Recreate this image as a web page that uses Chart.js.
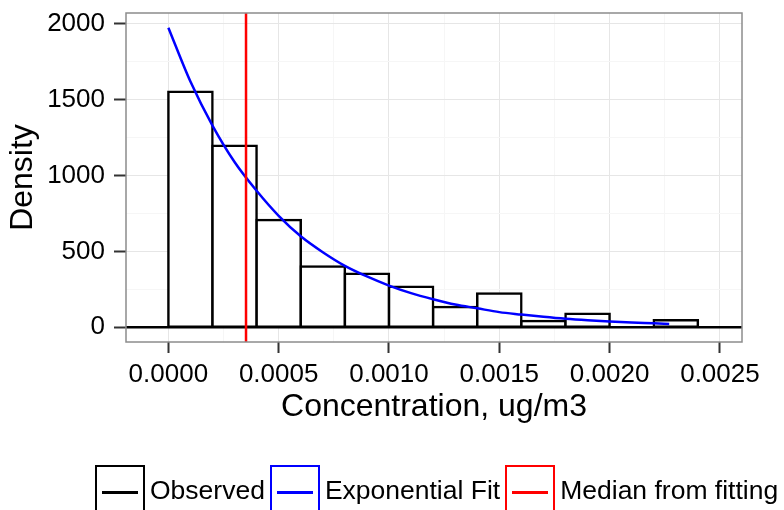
<!DOCTYPE html>
<html>
<head>
<meta charset="utf-8">
<title>Concentration density</title>
<script src="https://cdn.jsdelivr.net/npm/chart.js@4.4.1/dist/chart.umd.min.js"></script>
<style>
  html, body { margin: 0; padding: 0; background: #fff; }
  #wrap { position: relative; width: 784px; height: 510px; overflow: hidden; }
  #legend {
    position: absolute; left: 95px; top: 465px;
    display: flex; align-items: flex-start;
    font-family: "Liberation Sans", Arial, sans-serif; font-size: 26.5px; color: #000;
  }
  .key { width: 50px; height: 50px; box-sizing: border-box; border: 2px solid; position: relative; }
  .key span { position: absolute; left: 5px; right: 5px; top: 24px; height: 2.5px; }
  .lbl { margin: 12px 5px 0 5px; line-height: 27px; white-space: nowrap; }
</style>
</head>
<body>
<div id="wrap">
  <canvas id="chart" width="784" height="510"></canvas>
  <div id="legend">
    <div class="key" style="border-color:#000"><span style="background:#000"></span></div>
    <div class="lbl">Observed</div>
    <div class="key" style="border-color:#0000ff"><span style="background:#0000ff"></span></div>
    <div class="lbl">Exponential Fit</div>
    <div class="key" style="border-color:#ff0000"><span style="background:#ff0000"></span></div>
    <div class="lbl">Median from fitting</div>
  </div>
</div>
<script>
// ===== dados =====
// histograma: centro de cada classe (largura 0.0002) e densidade observada
const binMid = [0.0001, 0.0003, 0.0005, 0.0007, 0.0009, 0.0011, 0.0013, 0.0015, 0.0017, 0.0019, 0.0021, 0.0023];
const observed = [1553, 1197, 707, 400, 353, 268, 134, 222, 42, 90, 0, 46];

// curva exponencial ajustada
const fitX = [0, 0.0001, 0.0002, 0.0003, 0.0004, 0.0005, 0.0006, 0.0007, 0.0008, 0.0009, 0.0010, 0.0011,
  0.0012, 0.0013, 0.0014, 0.0015, 0.0016, 0.0017, 0.0018, 0.0019, 0.0020, 0.0021, 0.0022, 0.00227];
const fitY = [1975, 1620, 1330, 1090, 900, 735, 600, 495, 405, 335, 275, 225,
  185, 150, 125, 100, 84, 69, 56, 46, 38, 31, 26, 22];

// mediana do ajuste
const medianFit = 0.000352;

// eixos
const xMin = -0.000192, xMax = 0.0026;
const yMin = -97, yMax = 2072;
const xTicks = [0, 0.0005, 0.0010, 0.0015, 0.0020, 0.0025];
const xMinor = [0.00025, 0.00075, 0.00125, 0.00175, 0.00225];
const yTicks = [0, 500, 1000, 1500, 2000];
const yMinor = [250, 750, 1250, 1750];

const FONT = '"Liberation Sans", Arial, sans-serif';

function setTicks(major, minor) {
  return (scale) => {
    scale.ticks = major.map((v) => ({ value: v }))
      .concat(minor.map((v) => ({ value: v, minor: true })));
  };
}
const gridColor = (ctx) => (ctx.tick && ctx.tick.minor ? '#f6f6f6' : '#e6e6e6');
const tickColor = (ctx) => (ctx.tick && ctx.tick.minor ? 'rgba(0,0,0,0)' : '#333');

// moldura cinza do painel
const panelBorder = {
  id: 'panelBorder',
  afterDatasetsDraw(chart) {
    const { ctx, chartArea: a } = chart;
    ctx.save();
    ctx.strokeStyle = '#8c8c8c';
    ctx.lineWidth = 1.5;
    ctx.strokeRect(a.left, a.top, a.right - a.left, a.bottom - a.top);
    ctx.restore();
  },
};

new Chart(document.getElementById('chart'), {
  type: 'bar',
  data: {
    datasets: [
      {
        type: 'line',
        label: 'Median from fitting',
        data: [{ x: medianFit, y: yMin }, { x: medianFit, y: yMax }],
        borderColor: '#ff0000',
        borderWidth: 2.5,
        pointRadius: 0,
        order: 1,
      },
      {
        type: 'line',
        label: 'Exponential Fit',
        data: fitX.map((x, i) => ({ x, y: fitY[i] })),
        borderColor: '#0000ff',
        borderWidth: 2.5,
        pointRadius: 0,
        cubicInterpolationMode: 'monotone',
        order: 2,
      },
      {
        type: 'line',
        label: 'zero',
        data: [{ x: xMin, y: 0 }, { x: xMax, y: 0 }],
        borderColor: '#000',
        borderWidth: 2.5,
        pointRadius: 0,
        order: 3,
      },
      {
        label: 'Observed',
        data: binMid.map((x, i) => ({ x, y: observed[i] })),
        backgroundColor: '#fff',
        borderColor: '#000',
        borderWidth: 2.5,
        borderSkipped: false,
        inflateAmount: 1.25,
        barPercentage: 1,
        categoryPercentage: 1,
        order: 4,
      },
    ],
  },
  options: {
    responsive: false,
    devicePixelRatio: 1,
    animation: false,
    layout: { padding: { top: 13, right: 42, left: 0, bottom: 0 } },
    plugins: { legend: { display: false }, tooltip: { enabled: false } },
    scales: {
      x: {
        type: 'linear',
        min: xMin,
        max: xMax,
        offset: false,
        afterBuildTicks: setTicks(xTicks, xMinor),
        afterFit: (scale) => {
          scale.height = 168;
          scale.paddingLeft = 0;
          scale.paddingRight = 0;
        },
        grid: { color: gridColor, tickColor: tickColor, tickLength: 11, tickWidth: 2, lineWidth: 1, offset: false },
        border: { display: false },
        ticks: {
          autoSkip: false,
          maxRotation: 0,
          padding: 6,
          color: '#000',
          font: { family: FONT, size: 26 },
          callback: (v, i, ticks) => (ticks[i].minor ? '' : v.toFixed(4)),
        },
        title: {
          display: true,
          text: 'Concentration, ug/m3',
          color: '#000',
          font: { family: FONT, size: 32 },
          padding: { top: 0, bottom: 84 },
        },
      },
      y: {
        min: yMin,
        max: yMax,
        afterBuildTicks: setTicks(yTicks, yMinor),
        afterFit: (scale) => {
          scale.width = 126;
          scale.paddingTop = 0;
          scale.paddingBottom = 0;
        },
        grid: { color: gridColor, tickColor: tickColor, tickLength: 12, tickWidth: 2, lineWidth: 1 },
        border: { display: false },
        ticks: {
          autoSkip: false,
          padding: 9,
          color: '#000',
          font: { family: FONT, size: 26 },
          callback: (v, i, ticks) => (ticks[i].minor ? '' : String(v)),
        },
        title: {
          display: true,
          text: 'Density',
          color: '#000',
          font: { family: FONT, size: 32 },
          padding: { top: 4, bottom: 0 },
        },
      },
    },
  },
  plugins: [panelBorder],
});
</script>
</body>
</html>
